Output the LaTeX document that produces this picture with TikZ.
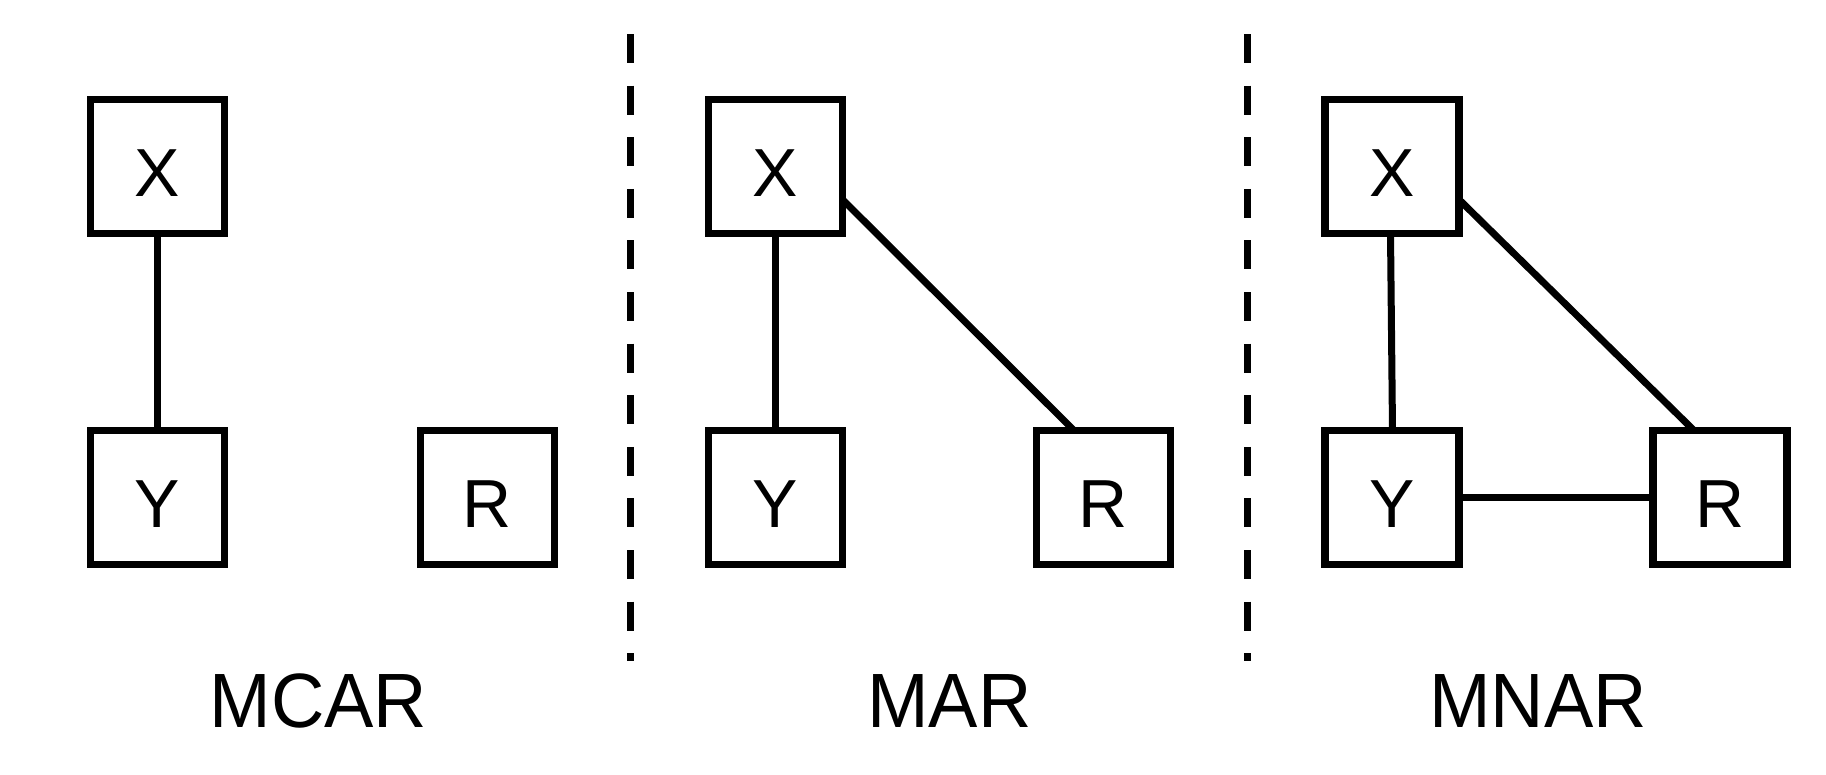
\documentclass[tikz,border=0pt]{standalone}
\usepackage{fontspec}
\setmainfont{Liberation Sans}
\newfontfamily\capfont[FakeStretch=0.96]{Liberation Sans}
\begin{document}
\begin{tikzpicture}[x=1pt,y=-1pt,
  varbox/.style={draw=black,line width=7.5pt,fill=white,minimum width=134pt,minimum height=134pt,
    inner sep=0pt,outer sep=0pt,font=\fontsize{68}{68}\selectfont,text height=59pt,text depth=0pt},
  edge/.style={draw=black,line width=7pt},
  divider/.style={draw=black,line width=7pt,dash pattern=on 29pt off 22.6pt},
  caption/.style={font=\capfont\fontsize{77}{77}\selectfont,anchor=base,inner sep=0pt}]
\useasboundingbox (0,0) rectangle (1826,774);
% dividers
\coordinate (d1t) at (630.5,34);
\coordinate (d1b) at (630.5,661);
\coordinate (d2t) at (1247.5,34);
\coordinate (d2b) at (1247.5,661);
\draw[divider] (d1t) -- (d1b);
\draw[divider] (d2t) -- (d2b);
% MCAR
\node[varbox] (X1) at (157.5,166.5) {X};
\node[varbox] (Y1) at (157.5,497.5) {Y};
\node[varbox] (R1) at (487.5,497.5) {R};
\draw[edge] (X1.south) -- (Y1.north);
\node[caption] (L1) at (318.5,727) {MCAR};
% MAR
\node[varbox] (X2) at (775.5,166.5) {X};
\node[varbox] (Y2) at (775.5,497.5) {Y};
\node[varbox] (R2) at (1103.5,497.5) {R};
\draw[edge] (X2.south) -- (Y2.north);
\draw[edge] ([yshift=-33pt]X2.east) -- ([xshift=-29.5pt]R2.north);
\node[caption] (L2) at (949.5,727) {MAR};
% MNAR
\node[varbox] (X3) at (1392,166.5) {X};
\node[varbox] (Y3) at (1392,497.5) {Y};
\node[varbox] (R3) at (1720,497.5) {R};
\draw[edge] ([xshift=-1.5pt]X3.south) -- ([xshift=0.5pt]Y3.north);
\draw[edge] ([yshift=-33pt]X3.east) -- ([xshift=-26pt]R3.north);
\draw[edge] (Y3.east) -- (R3.west);
\node[caption] (L3) at (1538,727) {MNAR};
\end{tikzpicture}
\end{document}
